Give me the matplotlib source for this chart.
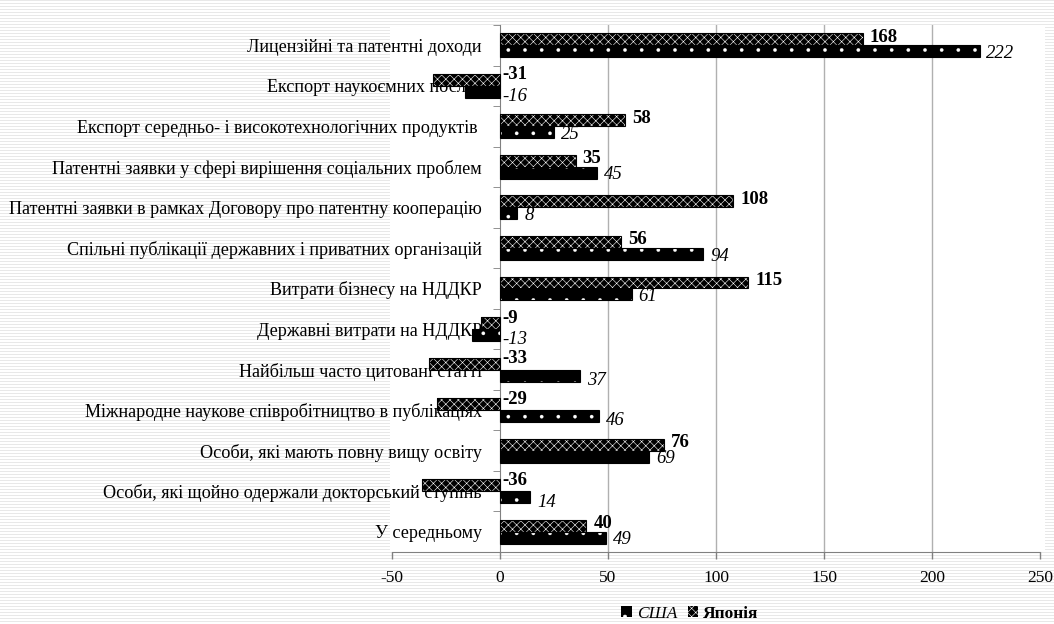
import numpy as np
import matplotlib
matplotlib.use("Agg")
import matplotlib.pyplot as plt
from matplotlib.patches import Rectangle, Patch

plt.rcParams["font.family"] = ["Liberation Serif", "DejaVu Serif"]
plt.rcParams["hatch.linewidth"] = 0.4

categories = [
    "Лицензійні та патентні доходи",
    "Експорт наукоємних послуг",
    "Експорт середньо- і високотехнологічних продуктів ",
    "Патентні заявки у сфері вирішення соціальних проблем",
    "Патентні заявки в рамках Договору про патентну кооперацію",
    "Спільні публікації державних і приватних організацій",
    "Витрати бізнесу на НДДКР",
    "Державні витрати на НДДКР",
    "Найбільш часто цитовані статті",
    "Міжнародне наукове співробітництво в публікаціях",
    "Особи, які мають повну вищу освіту",
    "Особи, які щойно одержали докторський ступінь",
    "У середньому",
]
japan = [168, -31, 58, 35, 108, 56, 115, -9, -33, -29, 76, -36, 40]
usa = [222, -16, 25, 45, 8, 94, 61, -13, 37, 46, 69, 14, 49]
x_ticks = [-50, 0, 50, 100, 150, 200, 250]
series_names = ["США", "Японія"]

W, H = 1054, 624
fig = plt.figure(figsize=(W / 100, H / 100), dpi=100)

# striped page background with a white plot area
bg = fig.add_axes([0, 0, 1, 1], zorder=-10)
stripes = np.ones((H, W))
stripes[::3, :] = 0.91
bg.imshow(stripes, cmap="gray", vmin=0, vmax=1, extent=(0, W, H, 0),
          interpolation="nearest", aspect="auto")
bg.add_patch(Rectangle((390, 25), 655, 526, facecolor="white", edgecolor="none"))
bg.set_xlim(0, W)
bg.set_ylim(H, 0)
bg.axis("off")

ax = fig.add_axes([392 / W, 1 - 552 / H, 648 / W, 527 / H])
ax.set_facecolor("none")

n = len(categories)
y = np.arange(n)
h = 0.296


def set_hatch_width(patches, lw):
    for p in patches:
        if hasattr(p, "set_hatch_linewidth"):
            p.set_hatch_linewidth(lw)


# bars: white pattern on black, outlined separately
jb = ax.barh(y - h / 2, japan, height=h, color="black", edgecolor="white",
             hatch="xxxx", linewidth=0, zorder=3)
ub = ax.barh(y + h / 2, usa, height=h, color="black", edgecolor="white",
             hatch=".", linewidth=0, zorder=3)
set_hatch_width(jb, 0.4)
set_hatch_width(ub, 0.2)
ax.barh(y - h / 2, japan, height=h, fill=False, edgecolor="black", linewidth=0.8, zorder=4)
ax.barh(y + h / 2, usa, height=h, fill=False, edgecolor="black", linewidth=0.8, zorder=4)

ax.set_xlim(-50, 250)
ax.set_ylim(n - 0.5, -0.5)

ax.set_xticks(x_ticks)
ax.set_xticklabels([str(t) for t in x_ticks])
ax.tick_params(axis="x", direction="out", length=5, width=1, color="#808080",
               labelsize=12.5, pad=8)
for gx in x_ticks[2:-1]:
    ax.axvline(gx, color="#b0b0b0", linewidth=1, zorder=1)

ax.spines["left"].set_position(("data", 0))
ax.spines["left"].set_color("#808080")
ax.spines["bottom"].set_color("#808080")
ax.spines["top"].set_visible(False)
ax.spines["right"].set_visible(False)

ax.set_yticks(y)
ax.set_yticklabels(categories)
ax.set_yticks(np.arange(n + 1) - 0.5, minor=True)
ax.tick_params(axis="y", which="major", length=0, labelsize=13.1, pad=13)
ax.tick_params(axis="y", which="minor", length=5, direction="out", color="#808080")

# value labels
for i, (jv, uv) in enumerate(zip(japan, usa)):
    neg = jv < 0 or uv < 0
    dy = 3.5 if neg else 1.5
    ax.annotate(str(jv), (max(jv, 0), i - h / 2), xytext=(2 if jv < 0 else 5, dy),
                textcoords="offset points", ha="left", va="center",
                fontsize=13.5, fontweight="bold", zorder=5)
    ax.annotate(str(uv), (max(uv, 0), i + h / 2), xytext=(2 if uv < 0 else 5, -dy),
                textcoords="offset points", ha="left", va="center",
                fontsize=13.5, fontstyle="italic", zorder=5)

handles = [
    Patch(facecolor="black", edgecolor="white", hatch=".", linewidth=0),
    Patch(facecolor="black", edgecolor="white", hatch="xxxx", linewidth=0),
]
leg = fig.legend(handles, series_names, loc="center",
                 bbox_to_anchor=(690 / W, 1 - 614 / H), ncol=2, frameon=False,
                 handlelength=0.6, handleheight=0.6, handletextpad=0.3,
                 columnspacing=0.6, fontsize=12.5)
leg.get_texts()[0].set_fontstyle("italic")
leg.get_texts()[1].set_fontweight("bold")

fig.savefig("out.png", dpi=100)
